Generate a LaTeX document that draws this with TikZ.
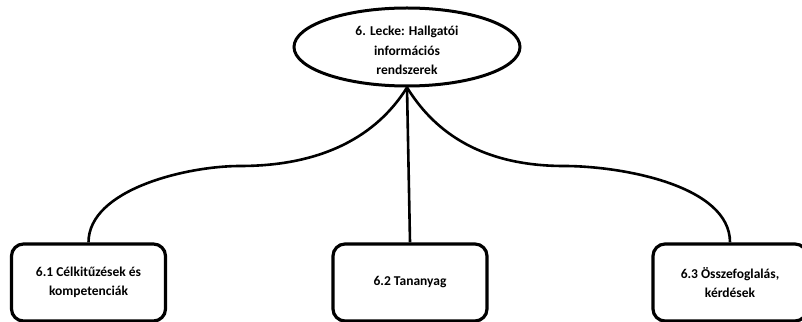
\documentclass[tikz,border=0pt]{standalone}
\usepackage{fontspec}
\setmainfont{Carlito}
\usepackage{tikz}
\usetikzlibrary{shapes.geometric}

\begin{document}
\begin{tikzpicture}[x=1pt, y=1pt,
    txt/.style={font=\fontsize{13.5}{19.5}\selectfont\bfseries, align=center, text=black},
    topic/.style={ellipse, draw, line width=3pt, inner sep=0pt,
        minimum width=226, minimum height=78},
    part/.style={draw, line width=3.2pt, rounded corners=12pt,
        minimum width=154, minimum height=77, txt},
    link/.style={line width=2.6pt}]
    % Frame
    \clip (0,0) rectangle (802,321);
    % Lesson
    \node[topic] (E) at (407,274) {};
    \node[txt] (Etxt) at ([yshift=-3.5pt]E.center) {6. Lecke: Hallgatói\\információs\\rendszerek};
    % Parts
    \node[part] (B1) at (88.5,38.5) {6.1 Célkitűzések és\\kompetenciák};
    \node[part] (B2) at (410,38.5) {6.2 Tananyag};
    \node[part] (B3) at (730,38.5) {6.3 Összefoglalás,\\kérdések};
    % Bends of the side links
    \coordinate (L) at (240,155);
    \coordinate (R) at (564,155);
    % Links
    \draw[link] (E.south) to[out=-122, in=0, out looseness=0.55, in looseness=1.4] (L)
        to[out=180, in=90, looseness=0.8] (B1.north);
    \draw[link] (E.south) -- (B2.north);
    \draw[link] (E.south) to[out=-58, in=180, out looseness=0.55, in looseness=1.4] (R)
        to[out=0, in=90, looseness=0.8] (B3.north);
\end{tikzpicture}
\end{document}
